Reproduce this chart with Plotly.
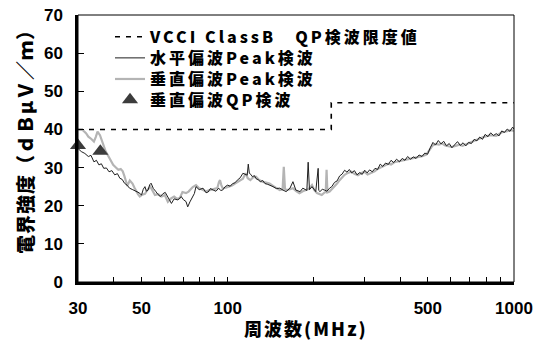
import math
import plotly.graph_objects as go

# ---- data ----
limit_freq = [30, 230, 230, 1000]
limit_level = [40, 40, 47, 47]

qp_freq = [30, 35.9]
qp_level = [35.8, 34.3]

h_freq = [
    30, 30.8, 31.7, 32.6, 33.3, 34.1, 34.8, 35.5, 36.2, 36.9,
    37.7, 38.5, 39.4, 40.3, 41.2, 42.0, 42.8, 43.6, 44.5, 45.4,
    46.6, 47.9, 49.0, 50.0, 50.7, 51.4, 52.0, 52.7, 53.4, 54.0,
    55.0, 56.0, 57.0, 58.2, 59.3, 60.5, 61.8, 63.6, 65.0, 67.0,
    68.8, 70.0, 71.5, 72.5, 73.8, 75.3, 76.5, 77.5, 79.5, 82.0,
    84.0, 85.5, 87.0, 89.0, 91.0, 93.0, 94.5, 96.0, 98.0, 100,
    102, 104, 106, 108, 110.5, 113, 115.5, 117, 118, 119,
    120.5, 122, 124, 125.5, 128, 130, 132.5, 135, 138, 141,
    144, 148, 152, 156, 160, 165, 169, 173, 179, 183,
    189, 191, 193, 197, 203, 207, 208, 210, 214, 218,
    222, 227,
    231, 236, 241, 246, 251, 256, 261, 266, 271, 277,
    283, 289, 295, 301, 307, 313, 320, 327, 334, 341,
    348, 356, 364, 372, 380, 389, 398, 407, 416, 425,
    435, 445, 455, 466, 477, 488, 499, 510, 521, 532,
    544, 556, 568, 581, 594, 607, 621, 635, 649, 664,
    679, 694, 710, 726, 742, 759, 776, 793, 811, 829,
    848, 867, 886, 906, 926, 947, 968, 989, 1000,
]
h_level = [
    35.0, 34.2, 33.7, 32.9, 33.2, 31.5, 31.9, 30.7, 31.0, 29.8,
    29.9, 28.9, 29.2, 28.1, 28.4, 27.2, 26.9, 25.9, 25.4, 24.6,
    24.2, 23.7, 23.4, 22.8, 24.3, 25.0, 23.8, 24.1, 25.5, 25.9,
    24.5, 23.8, 23.0, 22.4, 23.1, 23.5, 22.2, 20.6, 21.8, 21.5,
    22.4, 21.6, 21.1, 19.7, 21.0, 22.4, 23.2, 25.0, 24.2, 24.6,
    23.4, 23.6, 24.5, 24.1, 23.8, 24.6, 24.0, 24.1, 25.0, 25.4,
    25.1, 25.8, 26.0, 26.7, 27.3, 28.5, 28.1, 28.0, 30.9, 28.5,
    28.2, 27.6, 27.9, 27.1, 26.8, 26.3, 26.6, 25.8, 25.6, 25.4,
    25.0, 24.5, 24.6, 24.1, 23.7, 24.6, 26.3, 24.1, 23.7, 24.6,
    24.0, 31.4, 24.2, 25.0, 23.7, 29.8, 24.0, 23.7, 24.3, 24.1,
    23.8, 24.6,
    25.0, 26.1, 26.5, 27.8, 28.3, 29.3, 28.8, 29.5, 28.6, 29.2,
    28.1, 28.7, 28.2, 29.3, 28.6, 29.4, 28.9, 29.8, 29.5, 30.9,
    30.3, 31.2, 30.8, 31.9, 31.3, 32.2, 31.5, 32.4, 31.9, 32.9,
    32.2, 32.8, 32.4, 33.3, 32.9, 33.8, 33.5, 35.2, 36.6, 35.9,
    37.1, 36.2, 36.9, 35.7, 36.3, 35.2, 36.1, 36.8, 35.8, 36.5,
    35.7, 36.6, 36.3, 37.4, 37.0, 38.0, 37.4, 38.7, 38.1, 39.1,
    38.4, 38.9, 38.3, 39.6, 39.2, 40.1, 39.5, 40.6, 40.1,
]

v_freq = [
    30, 31.2, 32.0, 32.6, 33.4, 34.1, 34.6, 35.1, 35.8, 36.4,
    36.9, 37.5, 38.1, 39.0, 39.8, 40.6, 41.5, 42.3, 43.0, 43.6,
    44.6, 45.5, 46.5, 47.2, 47.9, 48.6, 49.3, 50.3, 51.4, 52.5,
    53.7, 54.6, 55.7, 57.2, 58.8, 60.3, 61.8, 63.4, 65.0, 66.5,
    68.0, 69.5, 71.5, 73.0, 74.0, 75.5, 77.5, 79.5, 82.0, 84.0,
    86.5, 89.0, 92.0, 93.2, 94.0, 95.0, 96.0, 98.5, 101, 103.5,
    106, 109, 113, 115.5, 117.5, 120, 122.5, 125.5, 128.5, 132,
    136, 140, 144, 148, 152, 155.5, 157, 158.5, 161, 165,
    169, 173, 178, 183, 187, 192, 197, 201, 205, 208,
    213, 218, 220, 221.5, 223, 227, 231, 236, 241, 246,
    251, 256, 263, 270, 278, 285, 292, 300, 308, 317,
    326, 335, 345, 355, 364, 372, 382, 393, 405, 418,
    432, 447, 462, 478, 494, 508, 520, 533, 547, 561,
    575, 590, 606, 625, 644, 661, 680, 700, 721, 740,
    760, 781, 802, 822, 844, 866, 888, 910, 932, 955,
    977, 1000,
]
v_level = [
    40.1, 39.8, 39.0, 38.1, 37.5, 36.8, 38.0, 39.4, 38.5, 36.8,
    35.5, 34.2, 33.3, 31.9, 30.7, 30.1, 29.4, 29.6, 29.0, 27.7,
    25.2, 26.6, 25.8, 24.8, 23.7, 23.0, 22.4, 22.9, 23.1, 24.2,
    25.0, 23.9, 22.8, 23.0, 22.4, 22.8, 21.0, 21.9, 22.4, 21.8,
    22.0, 23.6, 23.3, 23.7, 24.1, 24.9, 25.4, 24.6, 24.1, 23.8,
    24.1, 24.4, 24.6, 26.2, 26.7, 25.4, 24.6, 24.7, 25.0, 25.3,
    25.8, 26.3, 27.1, 28.5, 27.2, 26.7, 27.4, 27.6, 26.8, 26.3,
    26.0, 25.8, 25.2, 24.6, 24.1, 24.3, 30.2, 24.4, 24.1, 24.3,
    24.6, 23.9, 23.3, 23.8, 24.1, 24.4, 25.4, 24.0, 23.3, 23.1,
    22.8, 23.5, 23.6, 29.4, 23.5, 23.7, 24.3, 24.9, 25.8, 26.7,
    27.5, 28.1, 28.6, 28.9, 28.3, 28.0, 28.5, 28.9, 28.2, 28.5,
    29.0, 29.7, 30.2, 30.6, 31.0, 30.8, 31.4, 31.6, 31.8, 32.1,
    32.2, 32.5, 32.7, 33.0, 33.4, 34.8, 35.8, 36.2, 36.0, 36.3,
    35.8, 35.6, 35.4, 35.7, 36.0, 35.7, 36.1, 36.5, 37.0, 37.3,
    37.6, 38.0, 38.2, 38.5, 38.4, 38.3, 38.8, 39.3, 39.4, 39.6,
    39.8, 39.6,
]

x_tick_vals = [30, 40, 50, 60, 70, 80, 90, 100, 200, 300, 400, 500, 600, 700, 800, 900, 1000]
x_tick_text = ["30", "", "50", "", "", "", "", "100", "", "", "", "500", "", "", "", "", "1000"]
y_tick_vals = [0, 10, 20, 30, 40, 50, 60, 70]

names = ["VCCI ClassB\u3000QP検波限度値", "水平偏波Peak検波", "垂直偏波Peak検波", "垂直偏波QP検波"]
y_title = "電界強度（ｄＢμＶ／ｍ）"
x_title = "周波数(MHz)"

CJK = "Noto Sans CJK JP"
NUM = "Liberation Sans, Arial"


def spaced(s, px=2):
    return '<span style="letter-spacing:%dpx">%s</span>' % (px, s)


fig = go.Figure()
fig.add_trace(go.Scatter(x=limit_freq, y=limit_level, mode="lines", name=spaced(names[0], 3),
                         line=dict(color="black", width=1.6, dash="5px,6px"), legend="legend"))
fig.add_trace(go.Scatter(x=v_freq, y=v_level, mode="lines", name=spaced(names[2], 3),
                         line=dict(color="#b4b4b4", width=2.2), legend="legend3"))
fig.add_trace(go.Scatter(x=h_freq, y=h_level, mode="lines", name=spaced(names[1], 3),
                         line=dict(color="#1e1e1e", width=1), legend="legend2"))
fig.add_trace(go.Scatter(x=qp_freq, y=qp_level, mode="markers", name=spaced(names[3], 3),
                         marker=dict(symbol="triangle-up", size=14, color="#3c3c3c"),
                         cliponaxis=False, legend="legend4"))

leg_font = dict(family=CJK, size=16, color="black", weight=900)
row_y = [0.918, 0.839, 0.760, 0.682]
leg_common = dict(x=0.0734, xanchor="left", yanchor="middle", bgcolor="rgba(0,0,0,0)",
                  font=leg_font, itemwidth=30)

tick_font = dict(family=NUM, size=17, color="black", weight="bold")

fig.update_layout(
    width=537, height=343,
    margin=dict(l=78, r=23, t=15, b=61, autoexpand=False),
    paper_bgcolor="white", plot_bgcolor="white",
    showlegend=True,
    legend=dict(y=row_y[0], **leg_common),
    legend2=dict(y=row_y[1], **leg_common),
    legend3=dict(y=row_y[2], **leg_common),
    legend4=dict(y=row_y[3], **leg_common),
    xaxis=dict(type="log", range=[math.log10(30), math.log10(1000)],
               tickvals=x_tick_vals, ticktext=x_tick_text,
               ticks="inside", ticklen=5, tickwidth=1, tickcolor="black",
               showline=True, linecolor="black", linewidth=2.5,
               showgrid=False, zeroline=False, automargin=False,
               ticklabelstandoff=9, ticklabeloverflow="allow",
               tickfont=tick_font),
    yaxis=dict(range=[0, 70], tickvals=y_tick_vals,
               ticks="inside", ticklen=6, tickwidth=1, tickcolor="black",
               showline=True, linecolor="black", linewidth=2.5,
               showgrid=False, zeroline=False, automargin=False,
               ticklabelstandoff=9, ticklabeloverflow="allow",
               tickfont=tick_font),
    shapes=[dict(type="rect", xref="paper", yref="paper", x0=0, y0=0, x1=1, y1=1,
                 line=dict(color="black", width=1), layer="above")],
    annotations=[
        dict(text=spaced(x_title), xref="paper", yref="paper",
             x=0.523, y=-0.172, xanchor="center", yanchor="middle", showarrow=False,
             font=dict(family=CJK, size=18, color="black", weight=900)),
        dict(text=spaced(y_title, 1), xref="paper", yref="paper", textangle=-90,
             x=-0.124, y=0.543, xanchor="center", yanchor="middle", showarrow=False,
             font=dict(family=CJK, size=19, color="black", weight=900)),
    ],
)

fig.write_html(
    "out.html",
    config={"displayModeBar": False},
    post_script="document.body.style.margin='0px';document.body.style.overflow='hidden';",
)
